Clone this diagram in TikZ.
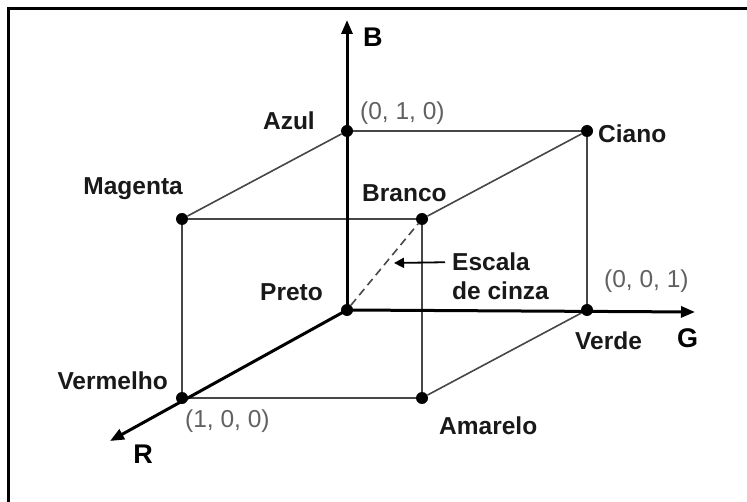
\documentclass[tikz,border=0pt]{standalone}
\usepackage{fontspec}
\setmainfont{Liberation Sans}
\usetikzlibrary{arrows.meta}
\begin{document}
\begin{tikzpicture}[x=1pt,y=-1pt,
  lbl/.style={font=\fontsize{24.5}{28}\selectfont\bfseries, inner sep=0pt, text=black!90},
  axlbl/.style={font=\fontsize{27}{30}\selectfont\bfseries, inner sep=0pt, text=black},
  crd/.style={font=\fontsize{24.5}{28}\selectfont, text=black!62, inner sep=0pt},
  cubeedge/.style={line width=1.6pt, draw=black!72},
  axis/.style={line width=3pt, -{Triangle[length=14pt,width=11pt]}},
  dot/.style={circle, fill=black, inner sep=0pt, minimum size=12pt}]
\useasboundingbox (0,0) rectangle (747,502);
\fill[white] (0,0) rectangle (747,502);
\draw[line width=3pt] (8.5,502) -- (8.5,8.5) -- (747,8.5);

% vertices
\node[dot] (O)  at (347,310) {};
\node[dot] (Az) at (347,131) {};
\node[dot] (Ci) at (587,131) {};
\node[dot] (Ve) at (587,310) {};
\node[dot] (Ma) at (182,219) {};
\node[dot] (Br) at (422,219) {};
\node[dot] (Vm) at (182,398) {};
\node[dot] (Am) at (422,398) {};
\coordinate (Btip) at (347,20);
\coordinate (Gtip) at (695,312);
\coordinate (Rtip) at (110,441);

% cube edges
\draw[cubeedge] (Az) -- (Ci);
\draw[cubeedge] (Ci) -- (Ve);
\draw[cubeedge] (Az) -- (Ma);
\draw[cubeedge] (Ci) -- (Br);
\draw[cubeedge] (Ma) -- (Br);
\draw[cubeedge] (Ma) -- (Vm);
\draw[cubeedge] (Br) -- (Am);
\draw[cubeedge] (Vm) -- (Am);
\draw[cubeedge] (Ve) -- (Am);
\draw[cubeedge, dashed, dash pattern=on 8pt off 5pt] (O) -- (Br);

% axes
\draw[axis] (O.center) -- (Btip);
\draw[axis] (O.center) -- (Gtip);
\draw[axis] (O.center) -- (Rtip);

% labels
\node[axlbl, anchor=base west] (lB) at (363,47) {B};
\node[lbl, anchor=base east] (lAz) at (315,130) {Azul};
\node[crd, anchor=base west] (cAz) at (360,120) {(0, 1, 0)};
\node[lbl, anchor=base west] (lCi) at (598,143) {Ciano};
\node[lbl, anchor=base east] (lMa) at (183,195) {Magenta};
\node[lbl, anchor=base west] (lBr) at (362,202) {Branco};
\node[lbl, anchor=base west] (esc) at (452,271) {Escala};
\node[lbl, anchor=base west] (cinza) at (452,300) {de cinza};
\node[crd, anchor=base west] (cVe) at (604,288) {(0, 0, 1)};
\node[lbl, anchor=base west] (lVe) at (575,350) {Verde};
\node[axlbl, anchor=base west] (lG) at (677,348) {G};
\node[lbl, anchor=base west] (lAm) at (439,435) {Amarelo};
\node[lbl, anchor=base east] (lPr) at (323,301) {Preto};
\node[lbl, anchor=base east] (lVm) at (168,390) {Vermelho};
\node[crd, anchor=base west] (cVm) at (185,428) {(1, 0, 0)};
\node[axlbl, anchor=base] (lR) at (143,463) {R};

\coordinate (esctip) at (394,263);
\draw[line width=1.8pt, -{Triangle[length=10pt,width=10pt]}] ([xshift=-7pt]esc.west) -- (esctip);
\end{tikzpicture}
\end{document}
